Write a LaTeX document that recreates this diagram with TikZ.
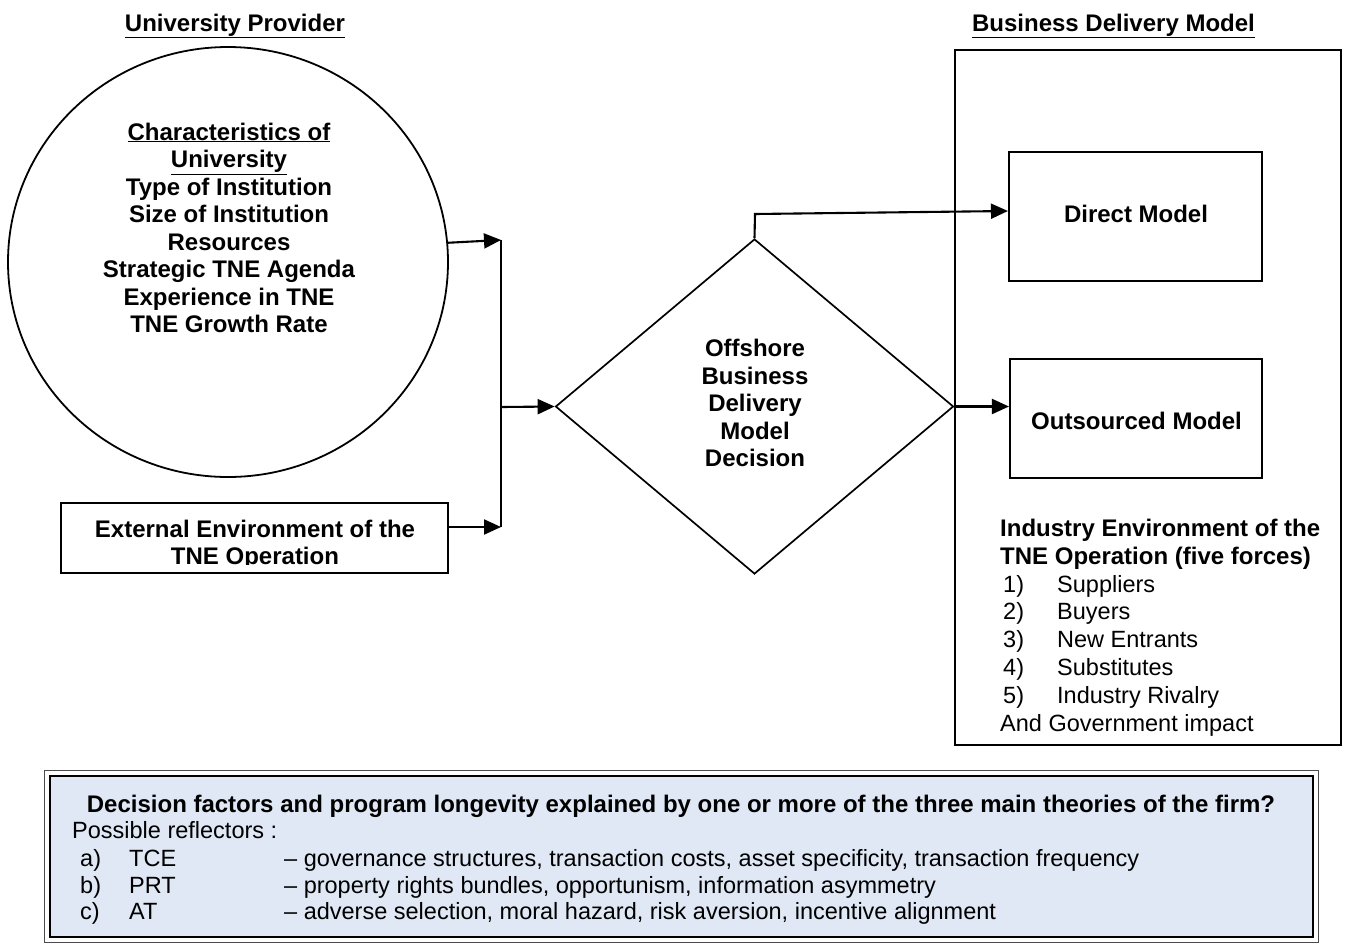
\documentclass[tikz,border=0pt]{standalone}
\usepackage{fontspec}
\setmainfont{Liberation Sans}
\usetikzlibrary{arrows.meta,shapes.geometric}
\definecolor{panelblue}{HTML}{DFE8F4}
\tikzset{
  txt/.style={font=\fontsize{23.5}{27.5}\selectfont, inner sep=0pt},
  txtb/.style={font=\fontsize{24}{27.5}\selectfont\bfseries, inner sep=0pt},
  frame/.style={draw, line width=2.1pt, inner sep=0pt},
  link/.style={line width=2.1pt},
  arr/.style={line width=2.1pt, -{Triangle[length=17pt,width=15pt]}},
}
\begin{document}
\begin{tikzpicture}[x=1pt,y=-1pt]
\useasboundingbox (0,0) rectangle (1346,943);

% column headings
\node[txtb, anchor=base] (hUni) at (235,31) {\underline{University Provider}};
\node[txtb, anchor=base] (hBdm) at (1113.5,31) {\underline{Business Delivery Model}};

% university characteristics
\node[frame, ellipse, line width=1.8pt, minimum width=440pt, minimum height=430pt] (uni) at (228,262) {};
\node[txtb, anchor=base] (u1) at (229,140) {\underline{Characteristics of}};
\node[txtb, anchor=base] (u2) at (229,167.5) {\underline{University}};
\node[txtb, anchor=base] (u3) at (229,195) {Type of Institution};
\node[txtb, anchor=base] (u4) at (229,222.5) {Size of Institution};
\node[txtb, anchor=base] (u5) at (229,250) {Resources};
\node[txtb, anchor=base] (u6) at (229,277.5) {Strategic TNE Agenda};
\node[txtb, anchor=base] (u7) at (229,305) {Experience in TNE};
\node[txtb, anchor=base] (u8) at (229,332.5) {TNE Growth Rate};

% external environment
\node[frame, minimum width=387pt, minimum height=70pt] (ext) at (254.5,538) {};
\begin{scope}
  \clip (61,503) rectangle (448,564.5);
  \node[txtb, anchor=base] (e1) at (255,537) {External Environment of the};
  \node[txtb, anchor=base] (e2) at (255,564) {TNE Operation};
\end{scope}

% decision
\node[draw, diamond, line width=1.7pt, inner sep=0pt, minimum width=398pt, minimum height=335pt] (dec) at (754.5,406.5) {};
\node[txtb, anchor=base] (d1) at (755,356) {Offshore};
\node[txtb, anchor=base] (d2) at (755,384) {Business};
\node[txtb, anchor=base] (d3) at (755,411.5) {Delivery};
\node[txtb, anchor=base] (d4) at (755,439) {Model};
\node[txtb, anchor=base] (d5) at (755,466) {Decision};

% business delivery model
\node[frame, minimum width=386pt, minimum height=695pt] (bdm) at (1148,397.5) {};
\node[frame, minimum width=253pt, minimum height=129pt] (dm) at (1135.5,216.5) {};
\node[txtb, anchor=base] (dmt) at (1136,222.5) {Direct Model};
\node[frame, minimum width=252pt, minimum height=119pt] (om) at (1136,418.5) {};
\node[txtb, anchor=base] (omt) at (1136.5,429.5) {Outsourced Model};

\node[txtb, anchor=base west] (i1) at (1000,536) {Industry Environment of the};
\node[txtb, anchor=base west] (i2) at (1000,564) {TNE Operation (five forces)};
\node[txt, anchor=base west] (n1) at (1003,592) {1)};
\node[txt, anchor=base west] (f1) at (1057,592) {Suppliers};
\node[txt, anchor=base west] (n2) at (1003,619.5) {2)};
\node[txt, anchor=base west] (f2) at (1057,619.5) {Buyers};
\node[txt, anchor=base west] (n3) at (1003,647.5) {3)};
\node[txt, anchor=base west] (f3) at (1057,647.5) {New Entrants};
\node[txt, anchor=base west] (n4) at (1003,675) {4)};
\node[txt, anchor=base west] (f4) at (1057,675) {Substitutes};
\node[txt, anchor=base west] (n5) at (1003,703) {5)};
\node[txt, anchor=base west] (f5) at (1057,703) {Industry Rivalry};
\node[txt, anchor=base west] (i3) at (1000,731) {And Government impact};

% connectors
\coordinate (j1) at (501,240);
\coordinate (j2) at (501,407);
\coordinate (j3) at (501,527);
\coordinate (k) at (755,214);
\draw[arr] (uni.5.7) -- (j1);
\draw[arr] (ext.east |- j3) -- (j3);
\draw[link] (j1) -- (j3);
\draw[arr] (j2) -- (dec.west);
\draw[arr] (dec.north) -- (k) -- ([yshift=5.5pt]dm.west);
\draw[arr] (dec.east) -- (dec.east -| om.west);

% theories of the firm
\node[draw=black!70, line width=1pt, inner sep=0pt, minimum width=1274pt, minimum height=172pt] (panelOuter) at (681,856) {};
\node[frame, fill=panelblue, minimum width=1263pt, minimum height=161pt] (panel) at (681.5,856.5) {};
\node[txtb, anchor=base] (p0) at (681,812) {Decision factors and program longevity explained by one or more of the three main theories of the firm?};
\node[txt, anchor=base west] (p1) at (72,838) {Possible reflectors :};
\node[txt, anchor=base west] (pa) at (80,866) {a)};
\node[txt, anchor=base west] (pak) at (129,866) {TCE};
\node[txt, anchor=base west] (pat) at (284,866) {-- governance structures, transaction costs, asset specificity, transaction frequency};
\node[txt, anchor=base west] (pb) at (80,893) {b)};
\node[txt, anchor=base west] (pbk) at (129,893) {PRT};
\node[txt, anchor=base west] (pbt) at (284,893) {-- property rights bundles, opportunism, information asymmetry};
\node[txt, anchor=base west] (pc) at (80,919) {c)};
\node[txt, anchor=base west] (pck) at (129,919) {AT};
\node[txt, anchor=base west] (pct) at (284,919) {-- adverse selection, moral hazard, risk aversion, incentive alignment};
\end{tikzpicture}
\end{document}
